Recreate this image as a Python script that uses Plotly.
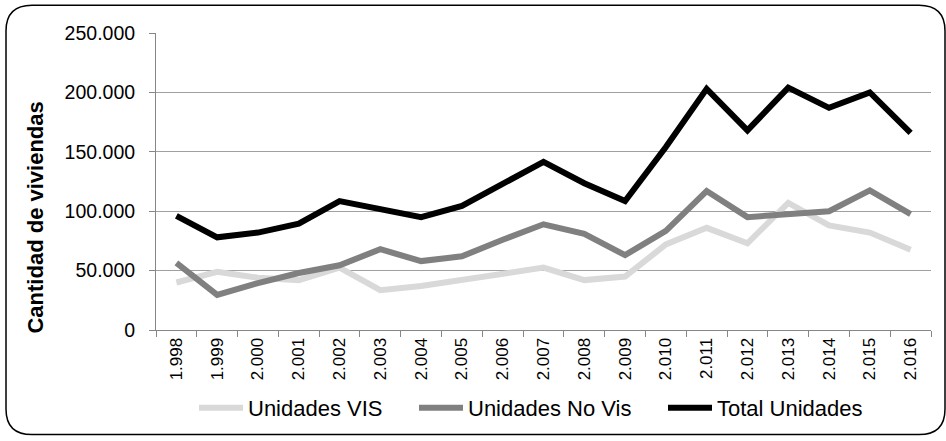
import plotly.graph_objects as go

# Años (etiquetas del eje x con punto de miles, como en el original)
years = ["1.998", "1.999", "2.000", "2.001", "2.002", "2.003", "2.004", "2.005",
         "2.006", "2.007", "2.008", "2.009", "2.010", "2.011", "2.012", "2.013",
         "2.014", "2.015", "2.016"]

unidades_vis = [40000, 49000, 44000, 42000, 52500, 33500, 37000, 42000,
                47000, 52500, 42000, 45000, 72000, 86000, 73000, 107000,
                88000, 82000, 67500]

unidades_no_vis = [56500, 29500, 39500, 48000, 54500, 68000, 58000, 62000,
                   76000, 89000, 81000, 63000, 83500, 117000, 95000, 97000,
                   100000, 117500, 97500]

total_unidades = [96000, 78000, 82000, 89500, 108500, 101500, 95000, 104500,
                  122500, 141500, 123500, 108500, 154000, 203000, 168000, 204000,
                  187000, 200000, 166000]

series = [
    ("Unidades VIS", unidades_vis, "#d9d9d9"),
    ("Unidades No Vis", unidades_no_vis, "#808080"),
    ("Total Unidades", total_unidades, "#000000"),
]

FONT = "Arial, Liberation Sans, sans-serif"

# plot area: x 156..931, y 33..334 px
W, H = 946, 441
L, R, T, B = 156, 15, 33, 107
pw, ph = W - L - R, H - T - B


def px_x(x):
    return (x - L) / pw


def px_y(y):
    return (H - B - y) / ph


# one legend per series so each entry sits where the original has it
legend_left = [194, 414, 663]
legend_keys = ["legend", "legend2", "legend3"]

fig = go.Figure()
for (name, vals, color), key in zip(series, legend_keys):
    fig.add_trace(go.Scatter(
        x=years, y=vals, name=name, mode="lines", legend=key,
        line=dict(color=color, width=6),
    ))

# rounded frame around the whole chart
x0, x1, y0, y1, r = px_x(6), px_x(945), px_y(5), px_y(440), 26
rx, ry = r / pw, r / ph
frame = (f"M{x0 + rx},{y0} L{x1 - rx},{y0} Q{x1},{y0} {x1},{y0 - ry} "
         f"L{x1},{y1 + ry} Q{x1},{y1} {x1 - rx},{y1} "
         f"L{x0 + rx},{y1} Q{x0},{y1} {x0},{y1 + ry} "
         f"L{x0},{y0 - ry} Q{x0},{y0} {x0 + rx},{y0} Z")

legends = {}
for key, lx in zip(legend_keys, legend_left):
    legends[key] = dict(
        orientation="h", x=px_x(lx), y=px_y(413), xanchor="left", yanchor="middle",
        font=dict(size=22), itemwidth=44, bgcolor="rgba(0,0,0,0)",
    )

fig.update_layout(
    width=W, height=H,
    margin=dict(l=L, r=R, t=T, b=B),
    paper_bgcolor="white", plot_bgcolor="white",
    font=dict(family=FONT, color="#000000"),
    separators=",.",
    showlegend=True,
    shapes=[dict(type="path", xref="paper", yref="paper", path=frame,
                 line=dict(color="#000000", width=1.5), layer="above")],
    annotations=[dict(
        text="<b>Cantidad de viviendas</b>", xref="paper", yref="paper",
        x=px_x(36), y=px_y(220), textangle=-90, showarrow=False,
        xanchor="center", yanchor="middle", font=dict(size=22),
    )],
    **legends,
)

fig.update_xaxes(
    type="category", showgrid=False, showline=True, linecolor="#868686",
    ticks="outside", ticklen=6, tickcolor="#868686", tickson="boundaries",
    tickangle=-90, tickfont=dict(size=17), range=[-0.5, len(years) - 0.5],
)
fig.update_yaxes(
    range=[0, 250000], dtick=50000, tickformat=",d",
    showgrid=True, gridcolor="#a0a0a0", gridwidth=1,
    showline=True, linecolor="#868686", ticks="outside", ticklen=6,
    tickcolor="#868686", tickfont=dict(size=19.5), zeroline=False,
    ticklabelstandoff=10,
)

# page body margin would shift the whole chart by 8px
fig.write_html("out.html", config={"displayModeBar": False},
               post_script="document.body.style.margin='0';")
